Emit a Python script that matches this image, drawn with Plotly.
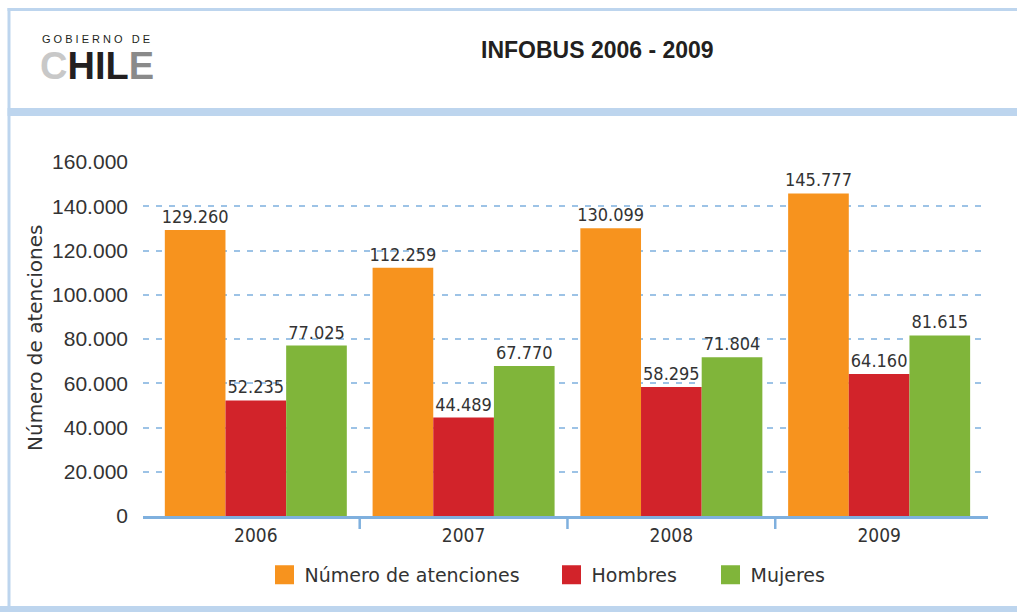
import plotly.graph_objects as go

years = ["2006", "2007", "2008", "2009"]
atenciones = [129260, 112259, 130099, 145777]
hombres = [52235, 44489, 58295, 64160]
mujeres = [77025, 67770, 71804, 81615]
series_names = ["Número de atenciones", "Hombres", "Mujeres"]
y_ticks = [0, 20000, 40000, 60000, 80000, 100000, 120000, 140000, 160000]

colors = ["#F7931E", "#D2232A", "#80B53A"]

W, H = 1017, 612
# screen-space plot area
SL, SR, ST, SB = 143, 988, 162, 516
ML, MT = SL, ST
MR, MB = W - SR, H - SB
PW, PH = SR - SL, SB - ST


def px(x):  # screen x -> paper
    return (x - SL) / PW


def py(y):  # screen y -> paper
    return (SB - y) / PH


def fmt(v):
    return f"{v:,}".replace(",", ".")


narrow = "DejaVu Sans Condensed, Liberation Sans Narrow, sans-serif"
label_font = dict(family=narrow, size=18, color="#333333")

fig = go.Figure()
legends = ["legend", "legend2", "legend3"]
for name, vals, col in zip(series_names, [atenciones, hombres, mujeres], colors):
    fig.add_trace(go.Bar(
        x=years, y=vals, name=name, marker=dict(color=col, line=dict(width=0)),
        text=[fmt(v) for v in vals], textposition="outside", textfont=label_font,
        constraintext="none", cliponaxis=False, showlegend=False,
    ))
for name, col, lg in zip(series_names, colors, legends):
    fig.add_trace(go.Scatter(
        x=[None], y=[None], mode="markers", name=name, legend=lg,
        marker=dict(symbol="square", size=16, color=col, line=dict(color=col, width=3)),
    ))

frame = "#BDD5EE"


def rect(x0, x1, y0, y1):
    return dict(type="rect", xref="paper", yref="paper", x0=px(x0), x1=px(x1), y0=py(y0), y1=py(y1),
                fillcolor=frame, line=dict(width=0), layer="below")


shapes = [
    rect(7.5, 10.5, 8, 612),
    rect(7.5, 1017, 8, 11),
    rect(7.5, 1017, 108, 116),
    rect(0, 1017, 606, 612),
]
for b in [0.5, 1.5, 2.5]:
    shapes.append(dict(type="line", xref="x", yref="paper", x0=b, x1=b, y0=0, y1=py(529),
                       line=dict(color="#7FB0DE", width=2.5)))

annotations = [
    dict(text="<b>INFOBUS 2006 - 2009</b>", xref="paper", yref="paper", x=px(597), y=py(50),
         xanchor="center", yanchor="middle", showarrow=False,
         font=dict(family="Liberation Sans, Arial, sans-serif", size=23, color="#231F20")),
    dict(text="G O B I E R N O   D E", xref="paper", yref="paper", x=px(40), y=py(39),
         xanchor="left", yanchor="middle", showarrow=False,
         font=dict(family="Liberation Sans, Arial, sans-serif", size=11, color="#231F20")),
    dict(text="<b><span style='color:#C8C8C8'>C</span>HIL<span style='color:#8A8A8A'>E</span></b>",
         xref="paper", yref="paper", x=px(38), y=py(66), xanchor="left", yanchor="middle", showarrow=False,
         font=dict(family="Liberation Sans, Arial, sans-serif", size=38, color="#231F20")),
    dict(text="Número de atenciones", xref="paper", yref="paper", x=px(35), y=py(338),
         xanchor="center", yanchor="middle", textangle=-90, showarrow=False,
         font=dict(family="DejaVu Sans, sans-serif", size=20, color="#333333")),
]

leg_font = dict(family="DejaVu Sans, sans-serif", size=19, color="#333333")
leg_common = dict(orientation="h", yanchor="middle", xanchor="left", font=leg_font,
                  itemwidth=30, bgcolor="rgba(0,0,0,0)", borderwidth=0)
sq_centers = [285.5, 572.5, 731.5]

fig.update_layout(
    width=W, height=H,
    margin=dict(l=ML, r=MR, t=MT, b=MB, pad=0),
    paper_bgcolor="white", plot_bgcolor="white",
    barmode="group", bargap=0.124, bargroupgap=0,
    shapes=shapes, annotations=annotations,
    showlegend=True,
    legend=dict(x=px(sq_centers[0] - 21), y=py(575), **leg_common),
    legend2=dict(x=px(sq_centers[1] - 21), y=py(575), **leg_common),
    legend3=dict(x=px(sq_centers[2] - 21), y=py(575), **leg_common),
    xaxis=dict(type="category", range=[-0.543, 3.524], showgrid=False, showline=True,
               linecolor="#7FB0DE", linewidth=3,
               ticks="", tickfont=dict(family=narrow, size=19, color="#333333"),
               zeroline=False),
    yaxis=dict(range=[0, 160000], tickvals=y_ticks, ticktext=[fmt(v) for v in y_ticks],
               showgrid=True, gridcolor="#9DC3E6", griddash="6px,7px", gridwidth=1.5,
               zeroline=False, showline=False, ticks="", ticklabelstandoff=14,
               tickfont=dict(family="Liberation Sans, Arial, sans-serif", size=21, color="#333333")),
)

fig.write_html(
    "out.html",
    config={"displayModeBar": False},
    post_script="document.body.style.margin='0';document.body.style.overflow='hidden';",
)
